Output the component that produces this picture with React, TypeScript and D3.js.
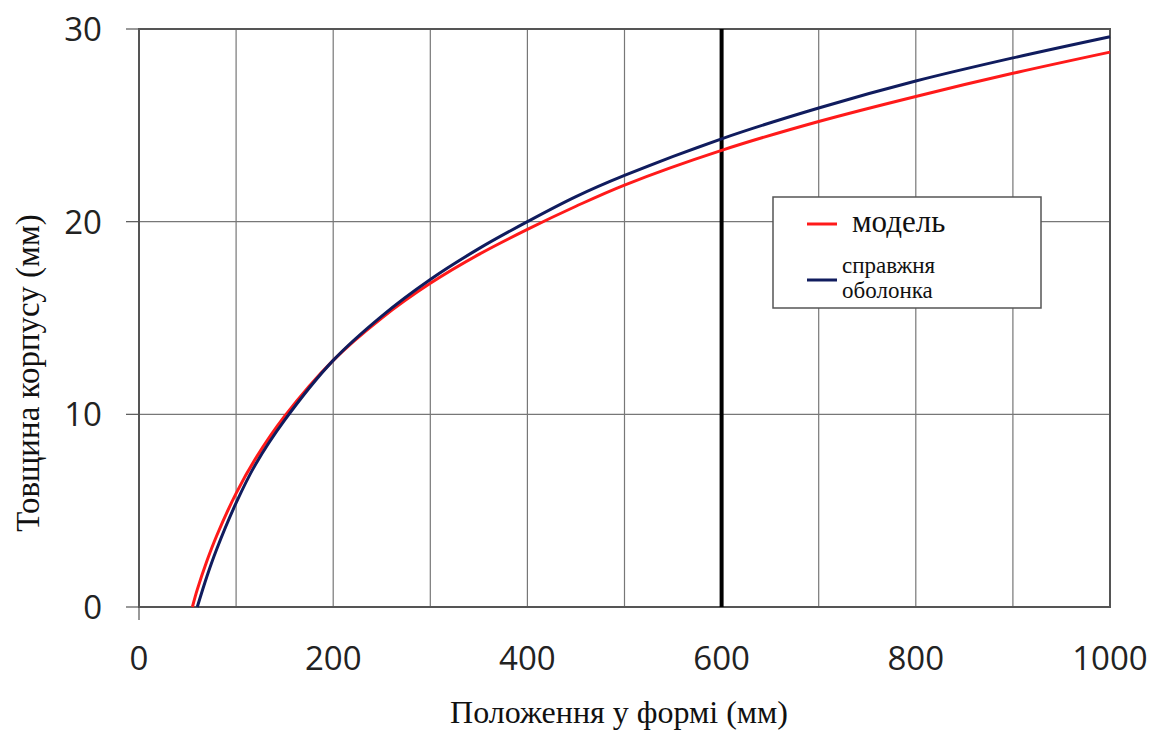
import { useEffect, useRef } from "react";
import * as d3 from "d3";

// positions along the mould (mm) and thickness (mm)
const modelX = [55, 60, 70, 80, 100, 120, 150, 200, 250, 300, 350, 400, 450, 500, 600, 700, 800, 900, 1000];
const modelY = [0, 0.9, 2.4, 3.7, 5.9, 7.7, 9.9, 12.8, 15.0, 16.8, 18.3, 19.6, 20.8, 21.9, 23.7, 25.2, 26.5, 27.7, 28.8];
const shellX = [60, 70, 80, 100, 120, 150, 200, 250, 300, 350, 400, 450, 500, 600, 700, 800, 900, 1000];
const shellY = [0, 1.6, 3.0, 5.4, 7.4, 9.7, 12.8, 15.1, 17.0, 18.6, 20.0, 21.3, 22.4, 24.3, 25.9, 27.3, 28.5, 29.6];
const xTicks = [0, 200, 400, 600, 800, 1000];
const xGrid = [100, 200, 300, 400, 500, 700, 800, 900];
const yTicks = [0, 10, 20, 30];
const markerX = 600;
const legendLabels = ["модель", "справжня", "оболонка"];

const W = 1153;
const H = 733;
const margin = { top: 29, right: 43, bottom: 126, left: 139 };

export default function App() {
  const ref = useRef<SVGSVGElement>(null);

  useEffect(() => {
    if (!ref.current) return;
    const svg = d3.select(ref.current);
    svg.selectAll("*").remove();

    const iw = W - margin.left - margin.right;
    const ih = H - margin.top - margin.bottom;
    const x = d3.scaleLinear().domain([0, 1000]).range([0, iw]);
    const y = d3.scaleLinear().domain([0, 30]).range([ih, 0]);

    const g = svg.append("g").attr("transform", `translate(${margin.left},${margin.top})`);

    // grid
    g.selectAll(".vg")
      .data(xGrid)
      .join("line")
      .attr("x1", (d) => x(d))
      .attr("x2", (d) => x(d))
      .attr("y1", 0)
      .attr("y2", ih)
      .attr("stroke", "#777")
      .attr("stroke-width", 1.2);
    g.selectAll(".hg")
      .data([10, 20])
      .join("line")
      .attr("x1", 0)
      .attr("x2", iw)
      .attr("y1", (d) => y(d))
      .attr("y2", (d) => y(d))
      .attr("stroke", "#777")
      .attr("stroke-width", 1.2);

    // frame
    g.append("rect")
      .attr("width", iw)
      .attr("height", ih)
      .attr("fill", "none")
      .attr("stroke", "#555")
      .attr("stroke-width", 2);

    // y tick marks and labels
    g.selectAll(".yt")
      .data(yTicks)
      .join("line")
      .attr("x1", -13)
      .attr("x2", 0)
      .attr("y1", (d) => y(d))
      .attr("y2", (d) => y(d))
      .attr("stroke", "#555")
      .attr("stroke-width", 1.2);
    g.selectAll(".yl")
      .data(yTicks)
      .join("text")
      .attr("x", -37)
      .attr("y", (d) => y(d))
      .attr("dy", "0.36em")
      .attr("text-anchor", "end")
      .attr("font-family", "'Open Sans', sans-serif")
      .attr("font-size", 33)
      .attr("fill", "#222")
      .text((d) => d);

    // x tick at origin + labels
    g.append("line")
      .attr("x1", 0)
      .attr("x2", 0)
      .attr("y1", ih)
      .attr("y2", ih + 13)
      .attr("stroke", "#555")
      .attr("stroke-width", 1.2);
    g.selectAll(".xl")
      .data(xTicks)
      .join("text")
      .attr("x", (d) => x(d))
      .attr("y", ih + 63)
      .attr("text-anchor", "middle")
      .attr("font-family", "'Open Sans', sans-serif")
      .attr("font-size", 33)
      .attr("fill", "#222")
      .text((d) => d);

    // vertical marker
    g.append("line")
      .attr("x1", x(markerX))
      .attr("x2", x(markerX))
      .attr("y1", 0)
      .attr("y2", ih)
      .attr("stroke", "#000")
      .attr("stroke-width", 4);

    const line = d3
      .line<[number, number]>()
      .x((d) => x(d[0]))
      .y((d) => y(d[1]))
      .curve(d3.curveCatmullRom.alpha(0.5));

    const modelPts = modelX.map((v, i) => [v, modelY[i]] as [number, number]);
    const shellPts = shellX.map((v, i) => [v, shellY[i]] as [number, number]);

    g.append("path")
      .attr("d", line(modelPts))
      .attr("fill", "none")
      .attr("stroke", "#ff1a1a")
      .attr("stroke-width", 3);
    g.append("path")
      .attr("d", line(shellPts))
      .attr("fill", "none")
      .attr("stroke", "#101c5e")
      .attr("stroke-width", 3);

    // legend
    const lg = svg.append("g").attr("transform", "translate(773,197)");
    lg.append("rect")
      .attr("width", 268)
      .attr("height", 111)
      .attr("fill", "#fff")
      .attr("stroke", "#555")
      .attr("stroke-width", 1.5);
    lg.append("line")
      .attr("x1", 34).attr("x2", 64).attr("y1", 27).attr("y2", 27)
      .attr("stroke", "#ff1a1a").attr("stroke-width", 3);
    lg.append("line")
      .attr("x1", 34).attr("x2", 64).attr("y1", 83).attr("y2", 83)
      .attr("stroke", "#101c5e").attr("stroke-width", 3);
    lg.append("text")
      .attr("x", 79).attr("y", 35)
      .attr("font-family", "'Liberation Serif', serif")
      .attr("font-size", 31)
      .attr("fill", "#111")
      .text(legendLabels[0]);
    lg.append("text")
      .attr("x", 69).attr("y", 76)
      .attr("font-family", "'Liberation Serif', serif")
      .attr("font-size", 23)
      .attr("fill", "#111")
      .text(legendLabels[1]);
    lg.append("text")
      .attr("x", 69).attr("y", 101)
      .attr("font-family", "'Liberation Serif', serif")
      .attr("font-size", 23)
      .attr("fill", "#111")
      .text(legendLabels[2]);

    // axis titles
    svg.append("text")
      .attr("x", 619)
      .attr("y", 723)
      .attr("text-anchor", "middle")
      .attr("font-family", "'Liberation Serif', serif")
      .attr("font-size", 32)
      .attr("fill", "#111")
      .text("Положення у формі (мм)");
    svg.append("text")
      .attr("transform", "translate(39,373) rotate(-90)")
      .attr("text-anchor", "middle")
      .attr("font-family", "'Liberation Serif', serif")
      .attr("font-size", 33)
      .attr("fill", "#111")
      .text("Товщина корпусу (мм)");
  }, []);

  return (
    <svg
      ref={ref}
      width={W}
      height={H}
      style={{ position: "absolute", left: 0, top: 0, background: "#fff" }}
    />
  );
}
